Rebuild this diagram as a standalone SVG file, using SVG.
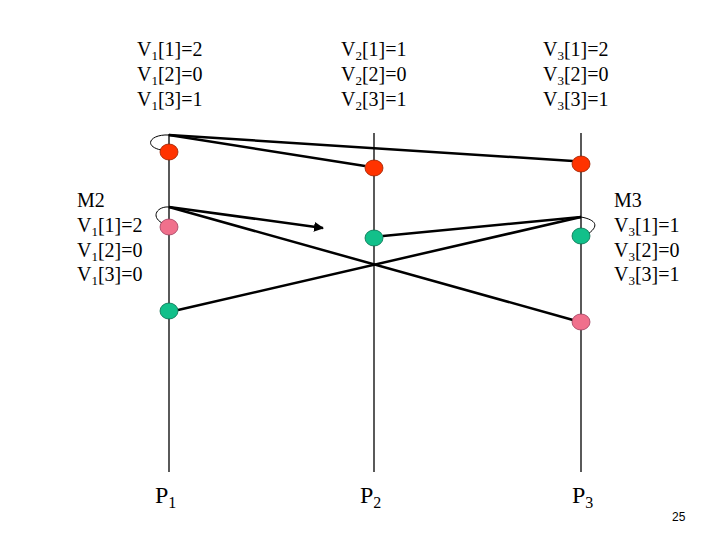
<svg xmlns="http://www.w3.org/2000/svg" width="720" height="540" viewBox="0 0 720 540">
<style>
.t{font-family:"Liberation Serif","Times New Roman",serif;font-size:20px;fill:#000}
.s{font-size:13px}
.p{font-family:"Liberation Serif","Times New Roman",serif;font-size:24px;fill:#000}
.ln{stroke:#000;stroke-width:1.3;fill:none}
.msg{stroke:#000;stroke-width:2.5;fill:none}
.loop{stroke:#000;stroke-width:1;fill:none}
.red{fill:#ff3300;stroke:#992200;stroke-width:0.8}
.pink{fill:#f0708c;stroke:#a04060;stroke-width:0.8}
.green{fill:#12c08a;stroke:#0a7050;stroke-width:0.8}
</style>
<defs>
<marker id="ah" viewBox="0 0 10 10" refX="9" refY="5" markerWidth="4" markerHeight="4" orient="auto" markerUnits="strokeWidth">
<path d="M0,0 L10,5 L0,10 Z" fill="#000"/>
</marker>
</defs>
<rect width="720" height="540" fill="#fff"/>
<g id="processes">
<line class="ln" x1="169" y1="134" x2="169" y2="472"/>
<line class="ln" x1="374" y1="133" x2="374" y2="472"/>
<line class="ln" x1="581" y1="133" x2="581" y2="472"/>
</g>
<g id="connectors">
<line class="msg" x1="169" y1="135" x2="365" y2="166"/>
<line class="msg" x1="169" y1="135" x2="573" y2="161"/>
<path class="loop" d="M169,135 C150,134 143,146 161,150"/>
<line class="msg" x1="169" y1="207" x2="323" y2="228" marker-end="url(#ah)"/>
<line class="msg" x1="169" y1="207" x2="573" y2="320"/>
<path class="loop" d="M169,207 C158,206 150,216 162,223"/>
<line class="msg" x1="581" y1="217" x2="383" y2="236"/>
<line class="msg" x1="581" y1="217" x2="178" y2="310"/>
<path class="loop" d="M581,217 C592,219 602,224 588,234"/>
</g>
<g id="events">
<ellipse class="red" cx="169" cy="152" rx="9" ry="8"/>
<ellipse class="red" cx="374" cy="168" rx="9" ry="8"/>
<ellipse class="red" cx="581" cy="164" rx="9" ry="8"/>
<ellipse class="pink" cx="169" cy="227" rx="9" ry="8"/>
<ellipse class="green" cx="374" cy="238" rx="9" ry="8"/>
<ellipse class="green" cx="581" cy="236" rx="9" ry="8"/>
<ellipse class="green" cx="169" cy="311" rx="9" ry="8"/>
<ellipse class="pink" cx="581" cy="322" rx="9" ry="8"/>
</g>
<g id="v1">
<text class="t" x="137" y="56">V<tspan class="s" dy="4">1</tspan><tspan dy="-4">[1]=2</tspan></text>
<text class="t" x="137" y="81">V<tspan class="s" dy="4">1</tspan><tspan dy="-4">[2]=0</tspan></text>
<text class="t" x="137" y="106">V<tspan class="s" dy="4">1</tspan><tspan dy="-4">[3]=1</tspan></text>
</g>
<g id="v2">
<text class="t" x="341" y="56">V<tspan class="s" dy="4">2</tspan><tspan dy="-4">[1]=1</tspan></text>
<text class="t" x="341" y="81">V<tspan class="s" dy="4">2</tspan><tspan dy="-4">[2]=0</tspan></text>
<text class="t" x="341" y="106">V<tspan class="s" dy="4">2</tspan><tspan dy="-4">[3]=1</tspan></text>
</g>
<g id="v3">
<text class="t" x="543" y="56">V<tspan class="s" dy="4">3</tspan><tspan dy="-4">[1]=2</tspan></text>
<text class="t" x="543" y="81">V<tspan class="s" dy="4">3</tspan><tspan dy="-4">[2]=0</tspan></text>
<text class="t" x="543" y="106">V<tspan class="s" dy="4">3</tspan><tspan dy="-4">[3]=1</tspan></text>
</g>
<g id="m2">
<text class="t" x="77" y="207">M2</text>
<text class="t" x="77" y="232">V<tspan class="s" dy="4">1</tspan><tspan dy="-4">[1]=2</tspan></text>
<text class="t" x="77" y="257">V<tspan class="s" dy="4">1</tspan><tspan dy="-4">[2]=0</tspan></text>
<text class="t" x="77" y="281">V<tspan class="s" dy="4">1</tspan><tspan dy="-4">[3]=0</tspan></text>
</g>
<g id="m3">
<text class="t" x="614" y="207">M3</text>
<text class="t" x="614" y="232">V<tspan class="s" dy="4">3</tspan><tspan dy="-4">[1]=1</tspan></text>
<text class="t" x="614" y="257">V<tspan class="s" dy="4">3</tspan><tspan dy="-4">[2]=0</tspan></text>
<text class="t" x="614" y="281">V<tspan class="s" dy="4">3</tspan><tspan dy="-4">[3]=1</tspan></text>
</g>
<g id="labels">
<text class="p" x="155" y="503">P<tspan font-size="16" dy="5">1</tspan></text>
<text class="p" x="360" y="503">P<tspan font-size="16" dy="5">2</tspan></text>
<text class="p" x="572" y="503">P<tspan font-size="16" dy="5">3</tspan></text>
<text x="672" y="521" font-family="Liberation Sans, Arial, sans-serif" font-size="12">25</text>
</g>
</svg>
